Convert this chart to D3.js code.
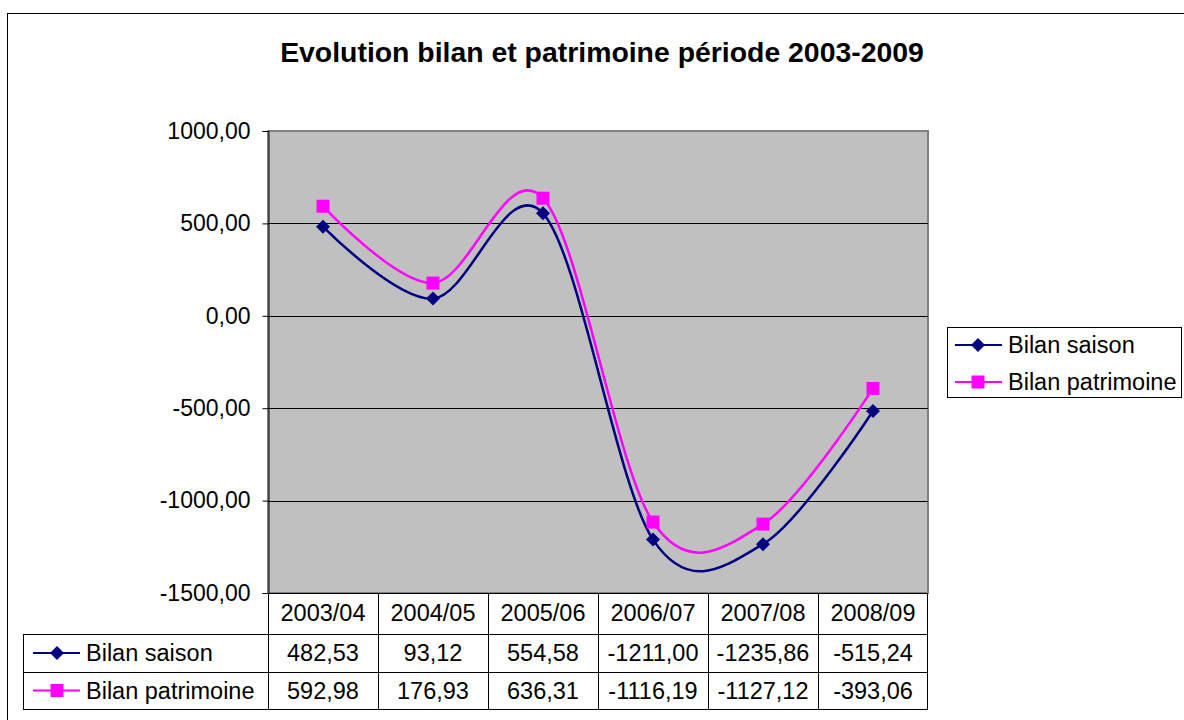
<!DOCTYPE html>
<html><head><meta charset="utf-8">
<script src="https://cdn.jsdelivr.net/npm/d3@7"></script>
<style>body{margin:0;background:#fff}svg{display:block}text{font-family:"Liberation Sans",Arial,sans-serif}</style>
</head><body><svg id="c" width="1184" height="720"></svg>
<script>
const categories = ["2003/04","2004/05","2005/06","2006/07","2007/08","2008/09"];
const bilanSaison = [482.53, 93.12, 554.58, -1211.00, -1235.86, -515.24];
const bilanPatrimoine = [592.98, 176.93, 636.31, -1116.19, -1127.12, -393.06];
const seriesNames = ["Bilan saison","Bilan patrimoine"];
const yTicks = [1000, 500, 0, -500, -1000, -1500];

const fmt = v => v.toFixed(2).replace(".", ",");
const svg = d3.select("#c");
const L = 268, R = 928, T = 131, B = 593;
const FS = 23.5;
const x = d3.scaleBand().domain(categories).range([L, R]);
const y = d3.scaleLinear().domain([-1500, 1000]).range([B, T]);
const cx = c => x(c) + x.bandwidth() / 2;

// outer border
svg.append("rect").attr("x", 7.5).attr("y", 13.5).attr("width", 1200).attr("height", 720)
  .attr("fill", "#fff").attr("stroke", "#000").attr("stroke-width", 1);

// title
svg.append("text").attr("x", 602).attr("y", 62).attr("text-anchor", "middle")
  .attr("font-size", 28.4).attr("font-weight", "bold").text("Evolution bilan et patrimoine période 2003-2009");

// plot area
svg.append("rect").attr("x", L).attr("y", T).attr("width", R - L).attr("height", B - T)
  .attr("fill", "#c0c0c0").attr("stroke", "#808080").attr("stroke-width", 2);

// gridlines
svg.append("g").selectAll("line").data(yTicks.filter(t => t > -1500 && t < 1000)).join("line")
  .attr("x1", L).attr("x2", R).attr("y1", d => Math.round(y(d)) + 0.5).attr("y2", d => Math.round(y(d)) + 0.5)
  .attr("stroke", "#000").attr("stroke-width", 1);

// y axis
const yAxis = d3.axisLeft(y).tickValues(yTicks).tickFormat(fmt).tickSize(6).tickPadding(12);
const ga = svg.append("g").attr("transform", `translate(${L + 0.5},0)`).call(yAxis);
ga.select(".domain").attr("stroke", "#000");
ga.selectAll(".tick line").attr("stroke", "#000");
ga.selectAll("text").attr("font-size", 23).attr("fill", "#000").attr("font-family", "Liberation Sans, Arial, sans-serif");

// lines
const colors = ["#000080", "#ff00ff"];
const data = [bilanSaison, bilanPatrimoine];
const line = d3.line().x((d, i) => cx(categories[i])).y(d => y(d)).curve(d3.curveCardinal.tension(0));
data.forEach((s, k) => {
  svg.append("path").attr("d", line(s)).attr("fill", "none").attr("stroke", colors[k]).attr("stroke-width", 2.5);
});
// markers
function marker(g, k, px, py) {
  if (k === 0) {
    g.append("path").attr("d", `M${px},${py - 7}L${px + 7},${py}L${px},${py + 7}L${px - 7},${py}Z`).attr("fill", colors[0]);
  } else {
    g.append("rect").attr("x", px - 6.5).attr("y", py - 6.5).attr("width", 13).attr("height", 13).attr("fill", colors[1]);
  }
}
const gm = svg.append("g");
data.forEach((s, k) => s.forEach((v, i) => marker(gm, k, cx(categories[i]), y(v))));

// table
const rowsY = [593, 634, 672, 709];
const tg = svg.append("g");
const tl = (x1, y1, x2, y2) => tg.append("line").attr("x1", x1).attr("y1", y1).attr("x2", x2).attr("y2", y2).attr("stroke", "#000").attr("stroke-width", 1);
tl(L, rowsY[0] + 0.5, R, rowsY[0] + 0.5);
tl(23, rowsY[1] + 0.5, R, rowsY[1] + 0.5);
tl(23, rowsY[2] + 0.5, R, rowsY[2] + 0.5);
tl(23, rowsY[3] + 0.5, R, rowsY[3] + 0.5);
tl(23.5, rowsY[1], 23.5, rowsY[3]);
categories.forEach(c => tl(Math.round(x(c)) + 0.5, rowsY[0], Math.round(x(c)) + 0.5, rowsY[3]));
tl(R - 0.5, rowsY[0], R - 0.5, rowsY[3]);
categories.forEach(c => tg.append("text").attr("x", cx(c)).attr("y", (rowsY[0] + rowsY[1]) / 2 + 7)
  .attr("text-anchor", "middle").attr("font-size", FS).text(c));
data.forEach((s, k) => {
  const yc = (rowsY[k + 1] + rowsY[k + 2]) / 2;
  s.forEach((v, i) => tg.append("text").attr("x", cx(categories[i])).attr("y", yc + 8)
    .attr("text-anchor", "middle").attr("font-size", FS).text(fmt(v)));
  tg.append("line").attr("x1", 33).attr("x2", 80).attr("y1", yc).attr("y2", yc).attr("stroke", colors[k]).attr("stroke-width", 2);
  marker(tg, k, 57, yc);
  tg.append("text").attr("x", 86).attr("y", yc + 8).attr("font-size", FS).text(seriesNames[k]);
});

// legend
const lg = svg.append("g");
lg.append("rect").attr("x", 947.5).attr("y", 327.5).attr("width", 234).attr("height", 70)
  .attr("fill", "#fff").attr("stroke", "#000").attr("stroke-width", 1);
[345, 382].forEach((yc, k) => {
  lg.append("line").attr("x1", 955).attr("x2", 1002).attr("y1", yc).attr("y2", yc).attr("stroke", colors[k]).attr("stroke-width", 2);
  marker(lg, k, 978, yc);
  lg.append("text").attr("x", 1008).attr("y", yc + 8).attr("font-size", FS).text(seriesNames[k]);
});
</script></body></html>
